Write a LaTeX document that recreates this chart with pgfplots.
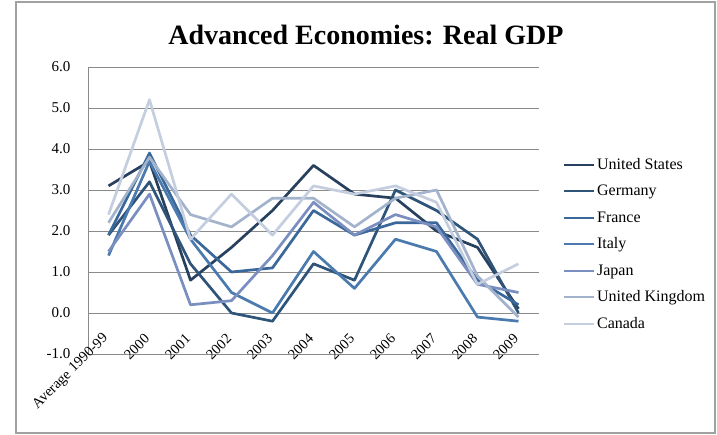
\documentclass[border=0pt]{standalone}
\usepackage{pgfplots}
\pgfplotsset{compat=1.18}
\usepackage{fontspec}
\setmainfont{Liberation Serif}
\definecolor{cUS}{HTML}{27405E}
\definecolor{cDE}{HTML}{2F5479}
\definecolor{cFR}{HTML}{3A689A}
\definecolor{cIT}{HTML}{4A7AAE}
\definecolor{cJP}{HTML}{7A8FC0}
\definecolor{cUK}{HTML}{A3B3CC}
\definecolor{cCA}{HTML}{C4CEDE}
\definecolor{gridc}{HTML}{8A8A8A}
\begin{document}
\begin{tikzpicture}
\begin{axis}[
  scale only axis,
  width=451pt, height=287pt,
  xmin=-0.5, xmax=10.5,
  ymin=-1, ymax=6,
  ytick={-1,0,1,2,3,4,5,6},
  yticklabels={-1.0,0.0,1.0,2.0,3.0,4.0,5.0,6.0},
  xtick={0,...,10},
  xticklabels={Average 1990-99,2000,2001,2002,2003,2004,2005,2006,2007,2008,2009},
  xticklabel style={rotate=45, anchor=east, font=\fontsize{14.5}{16}\selectfont},
  xticklabel shift=-20pt,
  yticklabel style={font=\fontsize{15}{16}\selectfont, xshift=-14pt},
  /pgf/number format/assume math mode=true,
  ymajorgrids,
  major grid style={gridc, line width=0.9pt},
  axis x line*=bottom,
  axis y line*=left,
  axis line style={gridc, line width=0.9pt, -},
  major tick length=0pt,
  title={\bfseries Advanced Economies: Real GDP},
  title style={font=\fontsize{28}{32}\selectfont, at={(axis description cs:0.6164,1.09)}, anchor=center},
  legend style={draw=none, fill=none, inner sep=0pt, at={(axis description cs:1.053,0.682)}, anchor=north west,
    font=\fontsize{16}{18}\selectfont, row sep=14.2pt, legend cell align=left,
    nodes={inner xsep=2pt, inner ysep=0pt}},
  legend image code/.code={\draw[#1, line width=2pt] (0pt,0pt) -- (30pt,0pt);},
  every axis plot/.append style={line width=2.7pt, line join=round},
]
\addplot[cUS] coordinates {(0,3.1)(1,3.7)(2,0.8)(3,1.6)(4,2.5)(5,3.6)(6,2.9)(7,2.8)(8,2.0)(9,1.6)(10,0.1)};
\addplot[cDE] coordinates {(0,1.9)(1,3.2)(2,1.2)(3,0.0)(4,-0.2)(5,1.2)(6,0.8)(7,3.0)(8,2.5)(9,1.8)(10,0.0)};
\addplot[cFR] coordinates {(0,1.9)(1,3.9)(2,1.9)(3,1.0)(4,1.1)(5,2.5)(6,1.9)(7,2.2)(8,2.2)(9,0.8)(10,0.2)};
\addplot[cIT] coordinates {(0,1.4)(1,3.7)(2,1.8)(3,0.5)(4,0.0)(5,1.5)(6,0.6)(7,1.8)(8,1.5)(9,-0.1)(10,-0.2)};
\addplot[cJP] coordinates {(0,1.5)(1,2.9)(2,0.2)(3,0.3)(4,1.4)(5,2.7)(6,1.9)(7,2.4)(8,2.1)(9,0.7)(10,0.5)};
\addplot[cUK] coordinates {(0,2.2)(1,3.8)(2,2.4)(3,2.1)(4,2.8)(5,2.8)(6,2.1)(7,2.8)(8,3.0)(9,0.9)(10,-0.1)};
\addplot[cCA] coordinates {(0,2.4)(1,5.2)(2,1.8)(3,2.9)(4,1.9)(5,3.1)(6,2.9)(7,3.1)(8,2.7)(9,0.7)(10,1.2)};
\legend{United States,Germany,France,Italy,Japan,United Kingdom,Canada}
\end{axis}
\pgfresetboundingbox
\path[use as bounding box] (-88pt,-81pt) rectangle (629pt,354pt);
\draw[gridc!80, line width=1.2pt] (-72pt,-79pt) rectangle (627pt,352pt);
\end{tikzpicture}
\end{document}
